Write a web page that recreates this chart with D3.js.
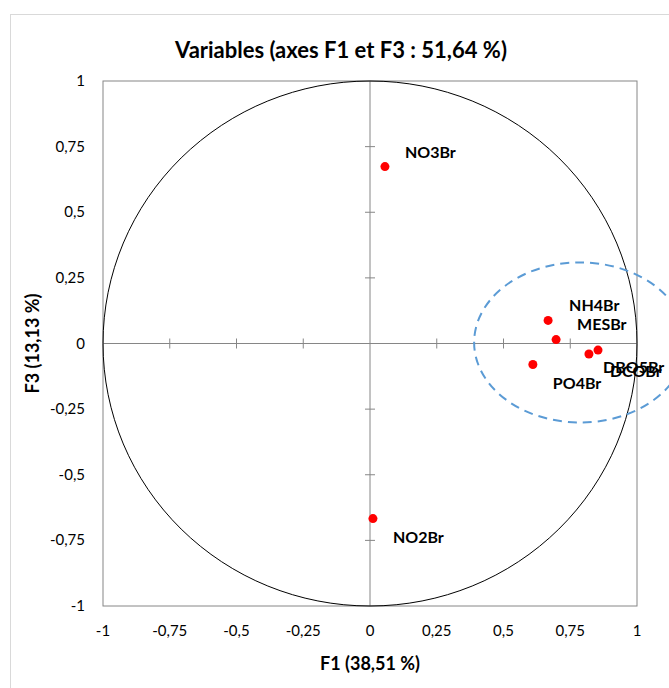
<!DOCTYPE html>
<html>
<head>
<meta charset="utf-8">
<script src="https://cdn.jsdelivr.net/npm/d3@7"></script>
<style>
  body { margin: 0; background: #fff; }
  svg { display: block; font-family: Lato, "Open Sans", sans-serif; }
  .tick-label { font-size: 15px; fill: #000; }
  .pt-label { font-size: 16px; font-weight: bold; fill: #000; }
</style>
</head>
<body>
<svg id="chart" width="669" height="688"></svg>
<script>
// variables on the correlation circle (F1, F3)
var names = ["NO3Br", "NO2Br", "NH4Br", "MESBr", "PO4Br", "DBO5Br", "DCOBr"];
var f1 = [0.056, 0.011, 0.667, 0.697, 0.610, 0.854, 0.820];
var f3 = [0.674, -0.667, 0.088, 0.015, -0.080, -0.025, -0.040];
// label offsets (px) relative to the point
var labelDx = [20, 20, 21, 21, 20, 5, 21];
var labelDy = [-9, 24, -9, -10, 24, 23, 23];

var xTicks = [-1, -0.75, -0.5, -0.25, 0, 0.25, 0.5, 0.75, 1];
var yTicks = [-1, -0.75, -0.5, -0.25, 0, 0.25, 0.5, 0.75, 1];

// highlighted group (dashed ellipse) in data units
var groupEllipse = { cx: 0.787, cy: 0.004, rx: 0.397, ry: 0.305 };

var svg = d3.select("#chart");
var margin = { top: 81, left: 103 };
var width = 534, height = 525;

var fmt = function (d) { return String(d).replace(".", ","); };

// outer chart frame
svg.append("rect")
  .attr("x", 10.5).attr("y", 14.5)
  .attr("width", 720).attr("height", 720)
  .attr("fill", "#fff")
  .attr("stroke", "#d9d9d9");

svg.append("text")
  .attr("x", 341).attr("y", 58)
  .attr("text-anchor", "middle")
  .style("font-size", "22px").style("font-weight", "bold")
  .text("Variables (axes F1 et F3 : 51,64 %)");

var x = d3.scaleLinear().domain([-1, 1]).range([0, width]);
var y = d3.scaleLinear().domain([-1, 1]).range([height, 0]);

var g = svg.append("g")
  .attr("transform", "translate(" + margin.left + "," + margin.top + ")");

// plot border
g.append("rect")
  .attr("x", 0).attr("y", 0)
  .attr("width", width).attr("height", height)
  .attr("fill", "none")
  .attr("stroke", "#868686");

// zero axes with cross ticks
g.append("line")
  .attr("x1", 0).attr("x2", width)
  .attr("y1", y(0)).attr("y2", y(0))
  .attr("stroke", "#868686");
g.append("line")
  .attr("x1", x(0)).attr("x2", x(0))
  .attr("y1", 0).attr("y2", height)
  .attr("stroke", "#868686");

g.selectAll(".xtick")
  .data(xTicks.filter(d => d !== 0 && Math.abs(d) !== 1))
  .enter().append("line")
  .attr("x1", d => x(d)).attr("x2", d => x(d))
  .attr("y1", y(0) - 5).attr("y2", y(0) + 5)
  .attr("stroke", "#868686");

g.selectAll(".ytick")
  .data(yTicks.filter(d => d !== 0 && Math.abs(d) !== 1))
  .enter().append("line")
  .attr("x1", x(0) - 5).attr("x2", x(0) + 5)
  .attr("y1", d => y(d)).attr("y2", d => y(d))
  .attr("stroke", "#868686");

// tick labels
g.selectAll(".xlab")
  .data(xTicks)
  .enter().append("text")
  .attr("class", "tick-label")
  .attr("x", d => x(d))
  .attr("y", height + 30)
  .attr("text-anchor", "middle")
  .text(fmt);

g.selectAll(".ylab")
  .data(yTicks)
  .enter().append("text")
  .attr("class", "tick-label")
  .attr("x", -18)
  .attr("y", d => y(d) + 5)
  .attr("text-anchor", "end")
  .text(fmt);

// axis titles
svg.append("text")
  .attr("x", margin.left + x(0)).attr("y", 670)
  .attr("text-anchor", "middle")
  .style("font-size", "18px").style("font-weight", "bold")
  .text("F1 (38,51 %)");

svg.append("text")
  .attr("transform", "translate(39," + (margin.top + y(0)) + ") rotate(-90)")
  .attr("text-anchor", "middle")
  .style("font-size", "18px").style("font-weight", "bold")
  .text("F3 (13,13 %)");

// correlation circle
g.append("ellipse")
  .attr("cx", x(0)).attr("cy", y(0))
  .attr("rx", x(1) - x(0)).attr("ry", y(0) - y(1))
  .attr("fill", "none")
  .attr("stroke", "#000")
  .attr("stroke-width", 1);

// points
var pts = names.map((n, i) => ({ name: n, f1: f1[i], f3: f3[i], dx: labelDx[i], dy: labelDy[i] }));

g.selectAll(".pt")
  .data(pts)
  .enter().append("circle")
  .attr("class", "pt")
  .attr("cx", d => x(d.f1))
  .attr("cy", d => y(d.f3))
  .attr("r", 4.5)
  .attr("fill", "#ff0000");

g.selectAll(".pt-label")
  .data(pts)
  .enter().append("text")
  .attr("class", "pt-label")
  .attr("x", d => x(d.f1) + d.dx)
  .attr("y", d => y(d.f3) + d.dy)
  .text(d => d.name);

// dashed group ellipse (drawn last, overflows the frame)
g.append("ellipse")
  .attr("cx", x(groupEllipse.cx)).attr("cy", y(groupEllipse.cy))
  .attr("rx", x(groupEllipse.rx) - x(0))
  .attr("ry", y(0) - y(groupEllipse.ry))
  .attr("fill", "none")
  .attr("stroke", "#5b9bd5")
  .attr("stroke-width", 2)
  .attr("stroke-dasharray", "9,6");
</script>
</body>
</html>
